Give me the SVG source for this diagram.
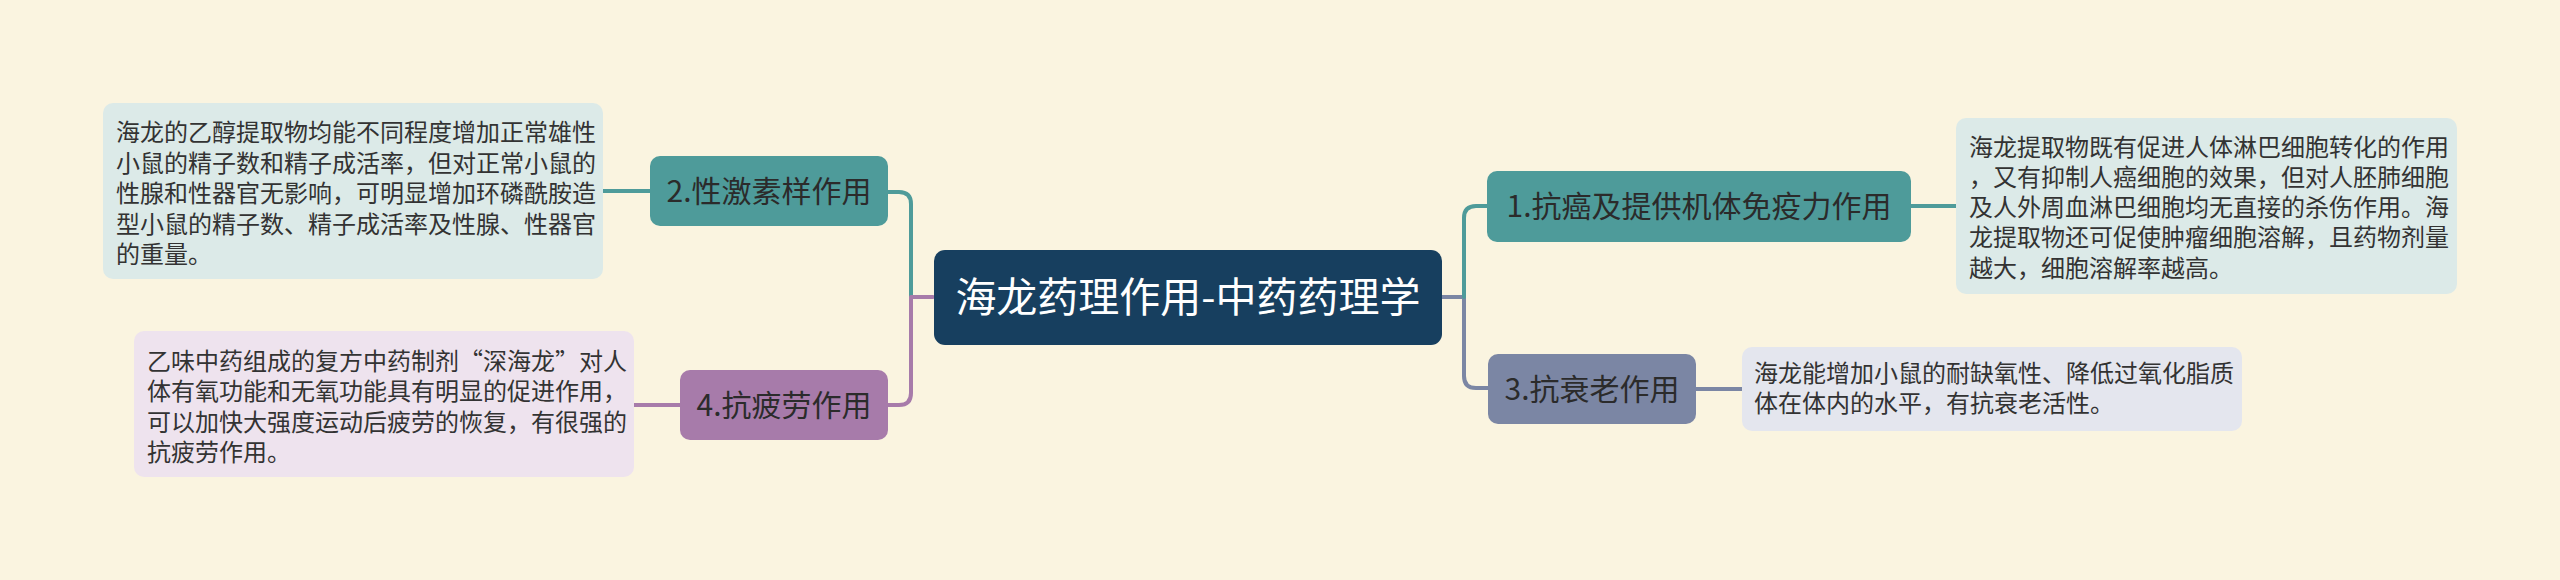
<svg xmlns="http://www.w3.org/2000/svg" width="2560" height="580" viewBox="0 0 2560 580">
<style>
text{font-family:"Noto Sans CJK SC","Noto Sans",sans-serif;}
.conn{fill:none;stroke-width:4;stroke-linecap:round;stroke-linejoin:round;}
.teal{stroke:#4E9B9A;}
.purple{stroke:#A77BAA;}
.slate{stroke:#7B86A4;}
.node{font-size:30px;fill:#2B2B2B;text-anchor:middle;}
.leaf{font-size:24px;fill:#333333;}
.root{font-size:41px;fill:#FFFFFF;text-anchor:middle;}
</style>
<rect width="2560" height="580" fill="#FAF4E0"/>
<g id="connectors">
<path class="conn teal" d="M911 297 V204 Q911 192 899 192 H888"/>
<path class="conn purple" d="M933 297 H911 V393 Q911 405 899 405 H888"/>
<path class="conn slate" d="M1442 297 H1464 V376 Q1464 388 1476 388 H1488"/>
<path class="conn teal" d="M1464 297 V218 Q1464 206 1476 206 H1488"/>
<path class="conn teal" d="M603 191 H650"/>
<path class="conn purple" d="M634 405 H680"/>
<path class="conn teal" d="M1911 206 H1956"/>
<path class="conn slate" d="M1696 389 H1742"/>
</g>
<g id="root">
<rect x="934" y="250" width="508" height="95" rx="11" fill="#173F5F"/>
<text class="root" x="1188" y="312">海龙药理作用-中药药理学</text>
</g>
<g id="node1">
<rect x="1487" y="171" width="424" height="71" rx="10" fill="#4E9B9A"/>
<text class="node" x="1699" y="217">1.抗癌及提供机体免疫力作用</text>
</g>
<g id="leaf1">
<rect x="1956" y="118" width="501" height="176" rx="10" fill="#DCEAE8"/>
<text class="leaf" x="1969" y="155.5">海龙提取物既有促进人体淋巴细胞转化的作用</text>
<text class="leaf" x="1969" y="185.8">，又有抑制人癌细胞的效果，但对人胚肺细胞</text>
<text class="leaf" x="1969" y="216.1">及人外周血淋巴细胞均无直接的杀伤作用。海</text>
<text class="leaf" x="1969" y="246.4">龙提取物还可促使肿瘤细胞溶解，且药物剂量</text>
<text class="leaf" x="1969" y="276.7">越大，细胞溶解率越高。</text>
</g>
<g id="node2">
<rect x="650" y="156" width="238" height="70" rx="10" fill="#4E9B9A"/>
<text class="node" x="769" y="202">2.性激素样作用</text>
</g>
<g id="leaf2">
<rect x="103" y="103" width="500" height="176" rx="10" fill="#DCEAE8"/>
<text class="leaf" x="116" y="141">海龙的乙醇提取物均能不同程度增加正常雄性</text>
<text class="leaf" x="116" y="171.5">小鼠的精子数和精子成活率，但对正常小鼠的</text>
<text class="leaf" x="116" y="202">性腺和性器官无影响，可明显增加环磷酰胺造</text>
<text class="leaf" x="116" y="232.5">型小鼠的精子数、精子成活率及性腺、性器官</text>
<text class="leaf" x="116" y="263">的重量。</text>
</g>
<g id="node3">
<rect x="1488" y="354" width="208" height="70" rx="10" fill="#7B86A4"/>
<text class="node" x="1592" y="400">3.抗衰老作用</text>
</g>
<g id="leaf3">
<rect x="1742" y="347" width="500" height="84" rx="10" fill="#E4E6EE"/>
<text class="leaf" x="1754" y="382">海龙能增加小鼠的耐缺氧性、降低过氧化脂质</text>
<text class="leaf" x="1754" y="412">体在体内的水平，有抗衰老活性。</text>
</g>
<g id="node4">
<rect x="680" y="370" width="208" height="70" rx="10" fill="#A77BAA"/>
<text class="node" x="784" y="416">4.抗疲劳作用</text>
</g>
<g id="leaf4">
<rect x="134" y="331" width="500" height="146" rx="10" fill="#EEE3EE"/>
<text class="leaf" x="147" y="370">乙味中药组成的复方中药制剂“深海龙”对人</text>
<text class="leaf" x="147" y="400.3">体有氧功能和无氧功能具有明显的促进作用，</text>
<text class="leaf" x="147" y="430.6">可以加快大强度运动后疲劳的恢复，有很强的</text>
<text class="leaf" x="147" y="460.9">抗疲劳作用。</text>
</g>
</svg>
